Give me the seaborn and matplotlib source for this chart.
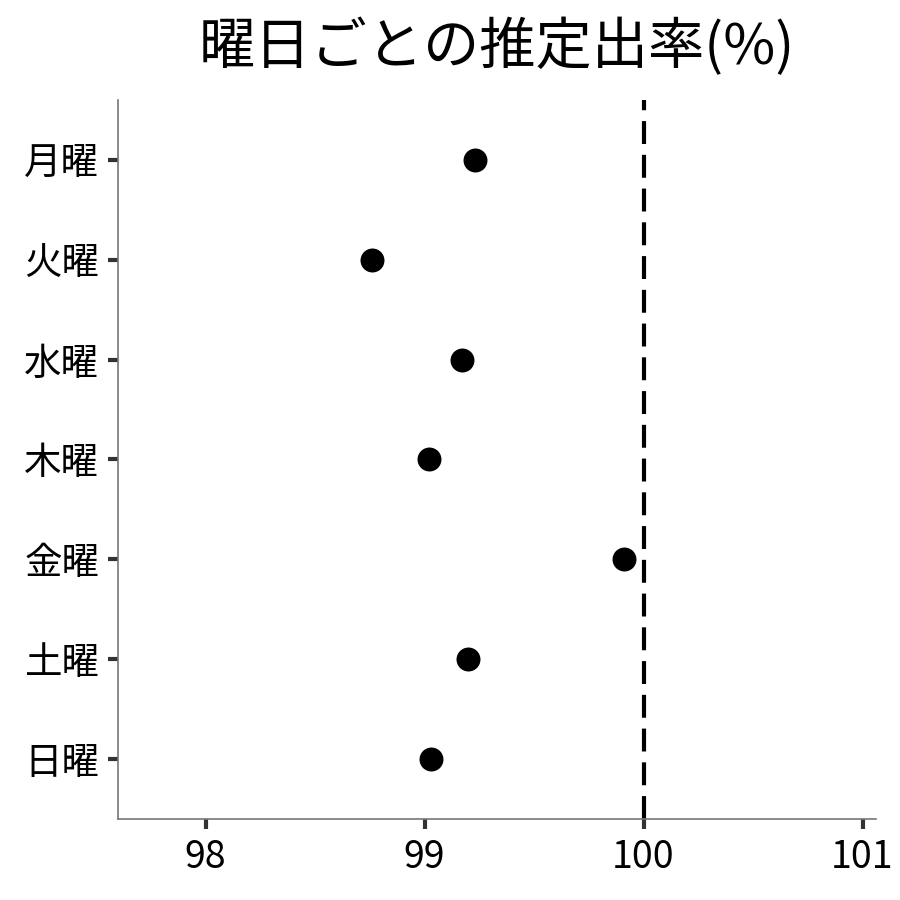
import matplotlib.pyplot as plt
import numpy as np
import pandas as pd
import seaborn as sns

days = ['月曜', '火曜', '水曜', '木曜', '金曜', '土曜', '日曜']
rates = [99.23, 98.76, 99.17, 99.02, 99.91, 99.20, 99.03]
ref_rate = 100
xticks = [98, 99, 100, 101]

sns.set_style('white')
plt.rcParams['font.family'] = ['Noto Sans CJK JP', 'DejaVu Sans']
plt.rcParams['text.color'] = 'black'

df = pd.DataFrame({'day': days, 'rate': rates})

fig = plt.figure(figsize=(6, 6), dpi=150)
ax = fig.add_axes([0.131, 0.09, 0.842, 0.799])
sns.stripplot(data=df, x='rate', y='day', order=days, jitter=False,
              color='black', size=11.5, linewidth=0, ax=ax)
ax.axvline(ref_rate, color='black', lw=2, dashes=(5.5, 2.6))

ax.set_xlim(97.6, 101.06)
ax.set_ylim(6.6, -0.6)
ax.set_xticks(xticks)
ax.set_xlabel('')
ax.set_ylabel('')
ax.set_title('曜日ごとの推定出率(%)', fontsize=27, pad=17, color='black')
ax.tick_params(axis='both', labelsize=18, length=5, width=2, color='#333333',
               labelcolor='black', left=True, bottom=True, pad=4)
sns.despine(ax=ax)
for s in ['left', 'bottom']:
    ax.spines[s].set_color('#777777')
    ax.spines[s].set_linewidth(0.8)

fig.savefig('out.png', dpi=150)
